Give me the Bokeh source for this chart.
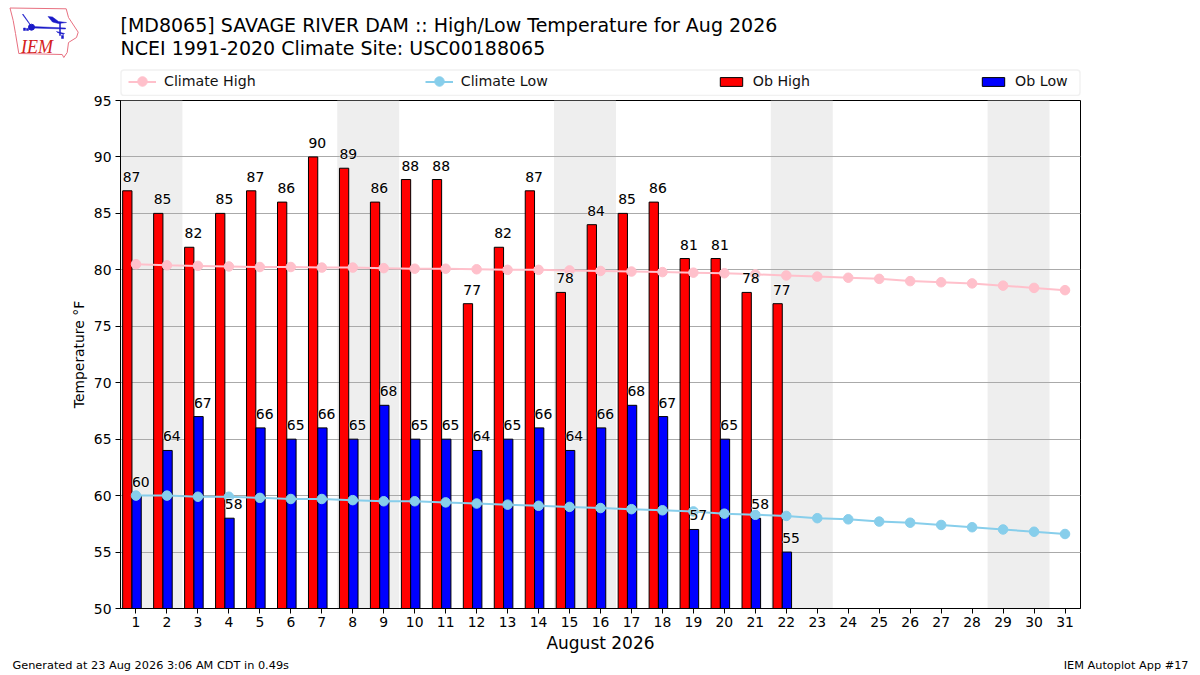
from bokeh.plotting import figure
from bokeh.models import (ColumnDataSource, BoxAnnotation, Legend, LegendItem, FixedTicker, Grid, Range1d)
from bokeh.core.properties import value
from bokeh.embed import file_html
from bokeh.resources import INLINE

days = list(range(1, 32))
ob_days = list(range(1, 23))
ob_high = [87, 85, 82, 85, 87, 86, 90, 89, 86, 88, 88, 77, 82, 87, 78, 84, 85, 86, 81, 81, 78, 77]
ob_low = [60, 64, 67, 58, 66, 65, 66, 65, 68, 65, 65, 64, 65, 66, 64, 66, 68, 67, 57, 65, 58, 55]
climate_high = [80.5, 80.4, 80.35, 80.3, 80.25, 80.25, 80.2, 80.2, 80.15, 80.1, 80.1, 80.05, 80.0, 80.0, 79.95, 79.9,
                79.85, 79.8, 79.75, 79.7, 79.6, 79.5, 79.4, 79.3, 79.2, 79.0, 78.9, 78.8, 78.6, 78.4, 78.2]
climate_low = [60.0, 60.0, 59.9, 59.9, 59.8, 59.7, 59.7, 59.6, 59.5, 59.5, 59.4, 59.3, 59.2, 59.1, 59.0, 58.9,
               58.8, 58.7, 58.6, 58.4, 58.3, 58.2, 58.0, 57.9, 57.7, 57.6, 57.4, 57.2, 57.0, 56.8, 56.6]
weekend_starts = [1, 8, 15, 22, 29]
y_ticks = list(range(50, 100, 5))
title_1 = "[MD8065] SAVAGE RIVER DAM :: High/Low Temperature for Aug 2026"
title_2 = "NCEI 1991-2020 Climate Site: USC00188065"
footer_l = "Generated at 23 Aug 2026 3:06 AM CDT in 0.49s"
footer_r = "IEM Autoplot App #17"
legend_labels = ["Climate High", "Climate Low", "Ob High", "Ob Low"]

FONT = "DejaVu Sans"
W = 1200
HEAD_H, FOOT_H, OVERLAP = 96, 20, 8
MAIN_H = 675 - HEAD_H - FOOT_H + OVERLAP
PINK, SKY, RED, BLUE = "#ffc0cb", "#87ceeb", "#ff0000", "#0000ff"
NAN = float("nan")


def strip(h, top):
    # a page-pixel canvas: x and y in this figure are the pixels of the page
    f = figure(width=W, height=h, output_backend="svg", toolbar_location=None, x_axis_type=None, y_axis_type=None,
               x_range=Range1d(0, W), y_range=Range1d(top + h, top), min_border=0)
    f.outline_line_color = None
    f.grid.visible = False
    return f


def put(f, s, x, y, size, align="left", color="black", font=FONT, style="normal"):
    f.text(x=[x], y=[y], text=[s], text_font=value(font), text_font_size=value(size), text_align=align,
           text_baseline="alphabetic", text_color=color, text_font_style=style)


# ---- header
head = strip(HEAD_H, 0)
put(head, title_1, 120, 24, "19px")
put(head, title_2, 120, 47, "19px")
put(head, "IEM", 20.5, 46, "18px", color="#d42020", font="Liberation Serif", style="italic")

LOGO = "#1a1ac8"
head.patch([9.5, 65.7, 68, 77.7, 76, 68, 66.7, 63.3, 61.7, 18.3, 15, 12.7], [7.5, 8.3, 17, 31.7, 37, 42, 52, 57, 54, 53, 33, 20],
           fill_color=None, line_color="#e87080", line_width=1)
logo_shapes = [([31.7, 65, 65, 31.7], [26, 27.5, 28.5, 27.5]),
               ([47.5, 52, 58, 66, 58, 52], [16, 16.5, 21, 22, 23, 21.5]),
               ([59, 60, 60, 59], [22.5, 22.5, 35, 35]),
               ([22, 30, 30.5, 22.5], [14, 25, 25, 13.5]),
               ([26, 28, 28, 26], [28, 28, 30, 30]),
               ([23, 25, 25, 23], [27.5, 27.5, 30, 30]),
               ([56, 64, 63, 57], [31, 33, 34, 32]),
               ([61, 63, 63, 61], [35, 35, 38, 38])]
for xs, ys in logo_shapes:
    head.patch(xs, ys, fill_color=LOGO, line_color=LOGO, line_width=0.5)
head.scatter([31], [26.7], size=6, fill_color=LOGO, line_color=LOGO)

head.add_layout(BoxAnnotation(left=120.5, right=1079.5, top=69.5, bottom=95, fill_color="white", fill_alpha=1,
                              line_color="#d0d0d0", line_width=1.5, border_radius=3, level="underlay"))
d_hi = head.line([NAN], [NAN], line_color=PINK, line_width=2)
d_lo = head.line([NAN], [NAN], line_color=SKY, line_width=2)
d_r = head.vbar(x=[NAN], top=[NAN], bottom=[NAN], width=1, fill_color=RED, line_color="black", line_width=1)
d_b = head.vbar(x=[NAN], top=[NAN], bottom=[NAN], width=1, fill_color=BLUE, line_color="black", line_width=1)
legend = Legend(items=[LegendItem(label=legend_labels[0], renderers=[d_hi]),
                       LegendItem(label=legend_labels[1], renderers=[d_lo]),
                       LegendItem(label=legend_labels[2], renderers=[d_r]),
                       LegendItem(label=legend_labels[3], renderers=[d_b])],
                orientation="horizontal", location=(128, 7), spacing=169, glyph_width=28, glyph_height=11,
                label_standoff=8, label_text_font=FONT, label_text_font_size="14.2px", label_text_color="#111111",
                border_line_color=None, background_fill_alpha=0, padding=5, margin=0, label_height=14)
head.add_layout(legend, "center")
head.scatter([142, 439], [81, 81], size=9.5, fill_color=[PINK, SKY], line_color=[PINK, SKY])

# ---- main chart
p = figure(width=W, height=MAIN_H, output_backend="svg", toolbar_location=None,
           x_range=Range1d(0.5, 31.5), y_range=Range1d(50, 95), margin=(-OVERLAP, 0, 0, 0),
           min_border_left=120, min_border_right=120, min_border_top=100 - HEAD_H + OVERLAP, min_border_bottom=47)
p.background_fill_color = "white"
p.border_fill_color = None
p.outline_line_color = "black"
p.outline_line_width = 1
p.xgrid.visible = False
p.ygrid.visible = False

for ax, ticks in ((p.xaxis[0], days), (p.yaxis[0], y_ticks)):
    ax.ticker = FixedTicker(ticks=ticks)
    ax.minor_tick_line_color = None
    ax.major_tick_in = 0
    ax.major_tick_out = 5
    ax.major_tick_line_color = "black"
    ax.axis_line_color = "black"
    ax.major_label_text_font = FONT
    ax.major_label_text_font_size = "13.9px"
    ax.major_label_text_color = "black"
    ax.axis_label_text_font = FONT
    ax.axis_label_text_font_style = "normal"
    ax.axis_label_text_color = "black"
p.xaxis[0].axis_label = "August 2026"
p.xaxis[0].axis_label_text_font_size = "17px"
p.xaxis[0].axis_label_standoff = 3
p.xaxis[0].major_label_standoff = 3
p.yaxis[0].axis_label = "Temperature °F"
p.yaxis[0].axis_label_text_font_size = "13.9px"
p.yaxis[0].axis_label_standoff = 4
p.yaxis[0].major_label_standoff = 4

p.quad(left=[d - 0.5 for d in weekend_starts], right=[d + 1.5 for d in weekend_starts],
       bottom=50, top=95, fill_color="#eeeeee", line_color=None, level="underlay")
grid = Grid(dimension=1, ticker=FixedTicker(ticks=y_ticks), grid_line_color="#aaaaaa", grid_line_width=1, level="underlay")
grid.axis = p.yaxis[0]
p.add_layout(grid)

hi_src = ColumnDataSource(dict(x=[d - 0.28 for d in ob_days], top=ob_high, lx=[d - 0.43 for d in ob_days], ly=[v + 1.24 for v in ob_high], t=[str(v) for v in ob_high]))
lo_src = ColumnDataSource(dict(x=[d + 0.02 for d in ob_days], top=ob_low, lx=[d - 0.13 for d in ob_days], ly=[v + 1.24 for v in ob_low], t=[str(v) for v in ob_low]))

p.vbar(x="x", top="top", bottom=50, width=0.3, source=hi_src, fill_color=RED, line_color="black", line_width=1)
p.vbar(x="x", top="top", bottom=50, width=0.3, source=lo_src, fill_color=BLUE, line_color="black", line_width=1)
p.line(days, climate_high, line_color=PINK, line_width=2)
p.scatter(days, climate_high, size=9.5, fill_color=PINK, line_color=PINK)
p.line(days, climate_low, line_color=SKY, line_width=2)
p.scatter(days, climate_low, size=9.5, fill_color=SKY, line_color=SKY)

for src in (hi_src, lo_src):
    for outline in ("white", None):
        p.text(x="lx", y="ly", text="t", source=src, text_font=value(FONT), text_font_size=value("13.9px"),
               text_color="black", text_align="left", text_baseline="middle", outline_color=outline)

# ---- footer
foot = strip(FOOT_H, 675 - FOOT_H)
put(foot, footer_l, 12, 665, "11.3px")
put(foot, footer_r, 1188, 665, "11.3px", align="right")

open("out.html", "w").write(file_html((head, p, foot), INLINE))
